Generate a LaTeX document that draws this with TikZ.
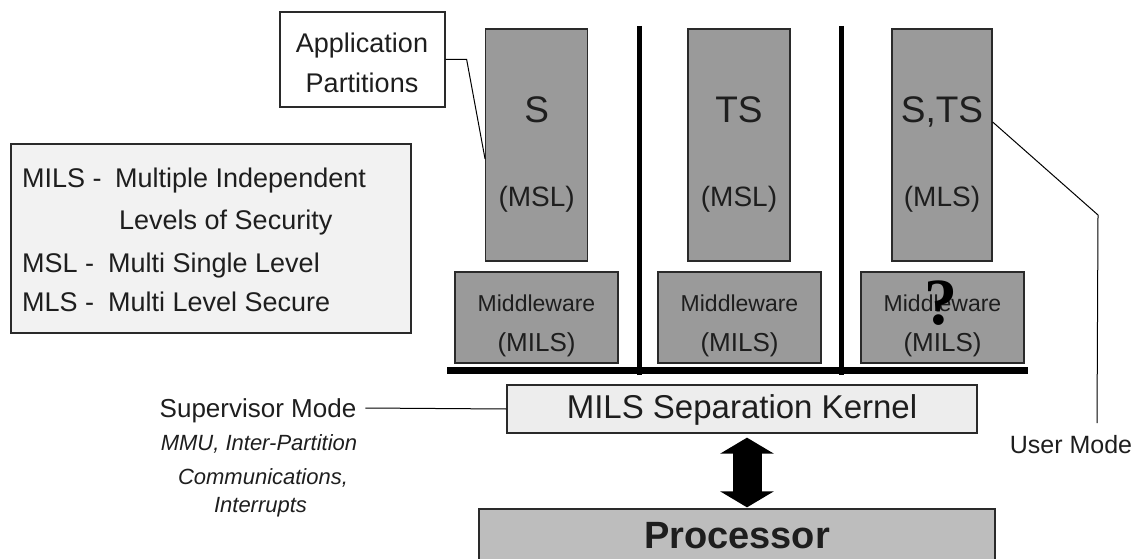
\documentclass[tikz,border=0pt]{standalone}
\usepackage{fontspec}
\setmainfont{Liberation Sans}
\newfontfamily\qfont{Liberation Serif}
\usetikzlibrary{arrows.meta}

\definecolor{ink}{HTML}{1E1E1E}
\definecolor{partgray}{HTML}{9A9A9A}
\definecolor{procgray}{HTML}{BDBDBD}
\definecolor{kernelgray}{HTML}{EDEDED}
\definecolor{legendgray}{HTML}{F2F2F2}
\definecolor{edge}{HTML}{2A2A2A}

\tikzset{
  box/.style={draw=edge, line width=1.3pt, inner sep=0pt, rectangle},
  part/.style={box, fill=partgray, minimum width=102pt, minimum height=232pt},
  mware/.style={box, fill=partgray, minimum width=163pt, minimum height=91pt},
  % text whose node centre sits on the middle of the capitals
  fs/.style 2 args={inner sep=0pt, text=ink, text depth=0pt, text height=#2,
                    font=\fontsize{#1}{#1}\selectfont},
  legtxt/.style={fs={27}{19.3pt}, anchor=west},
  bar/.style={draw=black, line cap=butt},
  leader/.style={draw=black, line width=1pt},
  bigarrow/.style={draw=black, line width=29pt,
     {Triangle[width=53pt,length=16pt]}-{Triangle[width=53pt,length=16pt]}}
}

\begin{document}
\begin{tikzpicture}[x=1pt, y=-1pt]
\useasboundingbox (0,0) rectangle (1140,559);

% application partitions callout
\node[box, fill=white, minimum width=165pt, minimum height=95pt] (app) at (362.5,59.5) {};
\node[fs={27}{19.3pt}] (appa) at (362,43) {Application};
\node[fs={27}{19.3pt}] (appb) at (362,83) {Partitions};

% legend
\node[box, fill=legendgray, minimum width=400pt, minimum height=189pt] (legend) at (211,238.5) {};
\node[legtxt] (l1a) at (22,178) {MILS -};
\node[legtxt] (l1b) at (115,178) {Multiple Independent};
\node[legtxt] (l2)  at (119,220) {Levels of Security};
\node[legtxt] (l3a) at (22,263) {MSL -};
\node[legtxt] (l3b) at (108,263) {Multi Single Level};
\node[legtxt] (l4a) at (22,302) {MLS -};
\node[legtxt] (l4b) at (108,302) {Multi Level Secure};

% partitions
\node[part] (ps)   at (536.7,145) {};
\node[part] (pts)  at (739,145) {};
\node[part, minimum width=100pt] (psts) at (942,145) {};
\node[fs={37}{26.5pt}] (psl)   at (536.7,109) {S};
\node[fs={28}{20pt}]   (psm)   at (536.7,196) {(MSL)};
\node[fs={37}{26.5pt}] (ptsl)  at (739,109) {TS};
\node[fs={28}{20pt}]   (ptsm)  at (739,196) {(MSL)};
\node[fs={37}{26.5pt}] (pstsl) at (942,109) {S,TS};
\node[fs={28}{20pt}]   (pstsm) at (942,196) {(MLS)};

% middleware
\foreach \n/\x in {mw1/536.5, mw2/739.5, mw3/942.5}{
  \node[mware] (\n) at (\x,317.5) {};
  \node[fs={23}{16.5pt}] (\n a) at (\x,303.5) {Middleware};
  \node[fs={26}{18.6pt}] (\n b) at (\x,342.5) {(MILS)};
}
\node[fs={66}{45pt}, font=\fontsize{66}{66}\selectfont\qfont\bfseries, text=black] (q) at (941,301.5) {?};

% separation bars
\draw[bar, line width=5pt] (639.5,26) -- (639.5,375);
\draw[bar, line width=5pt] (841,26) -- (841,375);
\draw[bar, line width=7pt] (447,370.5) -- (1028,370.5);

% kernel
\node[box, fill=kernelgray, minimum width=470pt, minimum height=48pt] (kernel) at (742,409) {};
\node[fs={33}{23.6pt}] (kernelt) at (742,407) {MILS Separation Kernel};

% processor (runs off the lower edge)
\begin{scope}
  \clip (0,0) rectangle (1140,559);
  \node[box, fill=procgray, minimum width=516pt, minimum height=70pt] (proc) at (737,544) {};
  \node[fs={38}{27.2pt}, font=\fontsize{38}{38}\selectfont\bfseries] (proct) at (737,535) {Processor};
\end{scope}

% kernel <-> processor
\draw[bigarrow] ([xshift=5pt,yshift=-4pt]kernel.south) -- ([xshift=10pt,yshift=1pt]proc.north);

% supervisor mode
\node[fs={26}{18.6pt}] (sup) at (258,408) {Supervisor Mode};
\node[fs={22}{15.8pt}, font=\fontsize{22}{22}\selectfont\itshape] (sup1) at (259,443) {MMU, Inter-Partition};
\node[fs={22}{15.8pt}, font=\fontsize{22}{22}\selectfont\itshape] (sup2) at (263,477) {Communications,};
\node[fs={22}{15.8pt}, font=\fontsize{22}{22}\selectfont\itshape] (sup3) at (260.5,505) {Interrupts};
\draw[leader] ([xshift=9pt]sup.east) -- (kernel.west);

% user mode
\node[fs={25}{17.9pt}] (user) at (1071,445) {User Mode};
\coordinate (umbend) at (1098,215);
\coordinate (umtop) at (1097,423);
\draw[leader] ([yshift=23pt]psts.east) -- (umbend) -- (umtop);

% application partitions leader
\draw[leader] (app.east) -- ++(21,0) -- ([yshift=-14pt]ps.west);
\end{tikzpicture}
\end{document}
